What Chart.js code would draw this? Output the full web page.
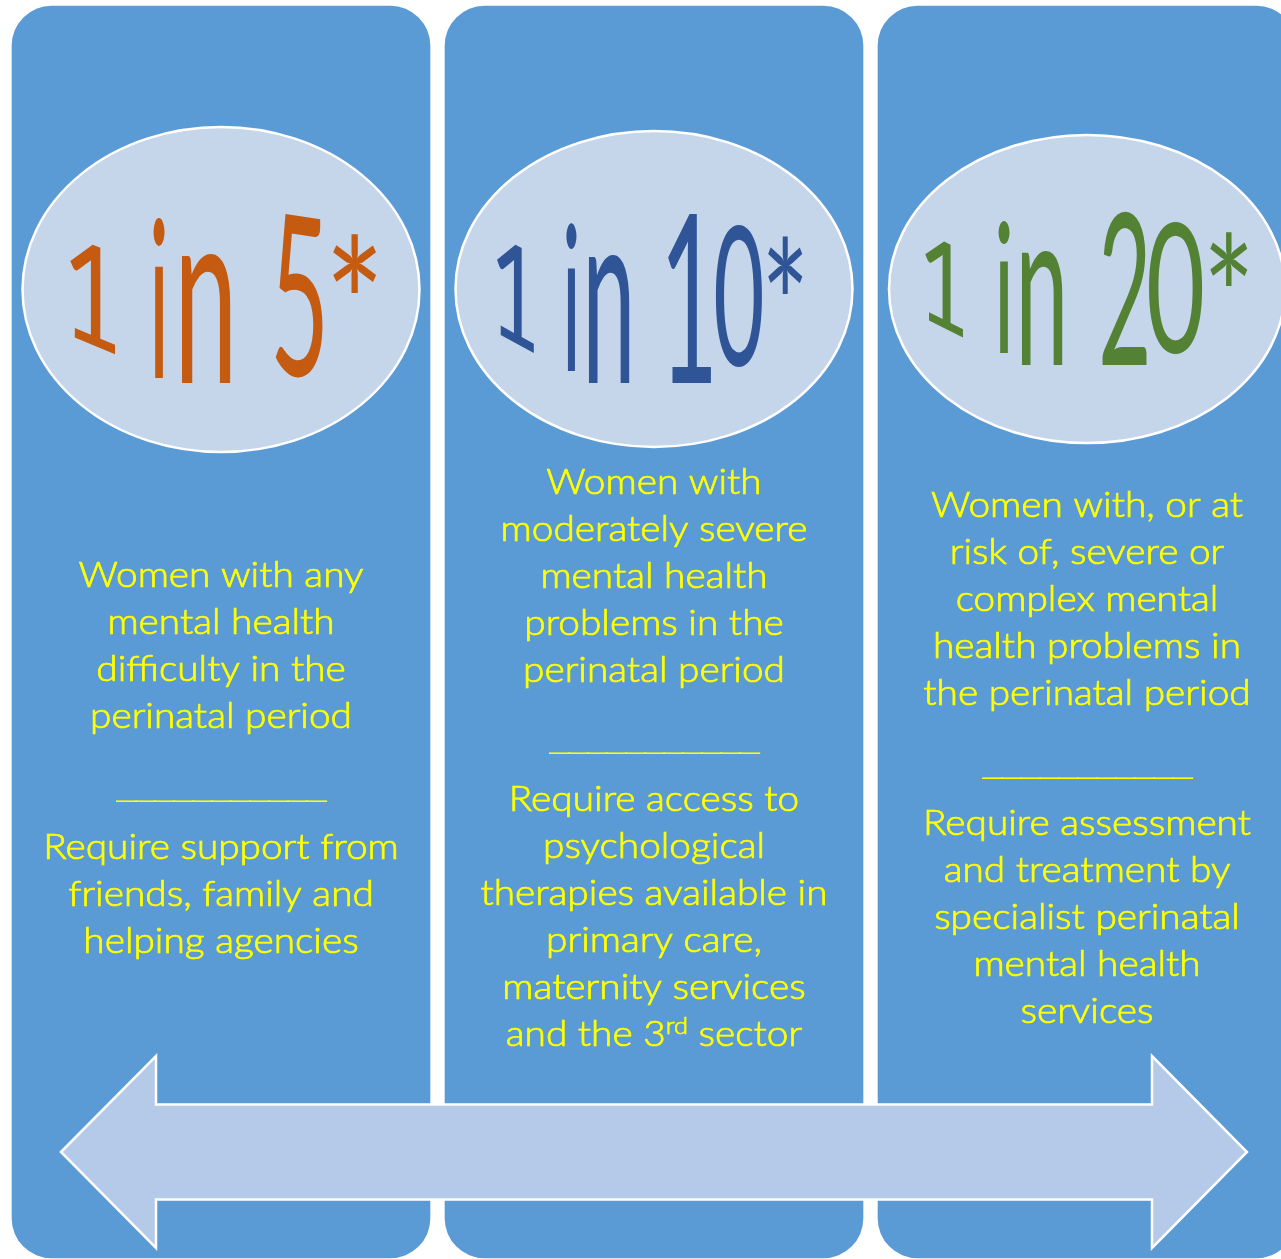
<!DOCTYPE html>
<html>
<head>
<meta charset="utf-8">
<script src="https://cdn.jsdelivr.net/npm/chart.js@4.4.1/dist/chart.umd.min.js"></script>
<style>
  html, body { margin: 0; padding: 0; background: #ffffff; }
  #wrap { width: 1281px; height: 1259px; overflow: hidden; }
</style>
</head>
<body>
<div id="wrap"><canvas id="chart" width="1281" height="1259"></canvas></div>
<script>
// ---- data ----
const panelTitles = ["1 in 5*", "1 in 10*", "1 in 20*"];
const whoText = [
  ["Women with any", "mental health", "difficulty in the", "perinatal period"],
  ["Women with", "moderately severe", "mental health", "problems in the", "perinatal period"],
  ["Women with, or at", "risk of, severe or", "complex mental", "health problems in", "the perinatal period"]
];
// {..} marks superscript
const needText = [
  ["Require support from", "friends, family and", "helping agencies"],
  ["Require access to", "psychological", "therapies available in", "primary care,", "maternity services", "and the 3{rd} sector"],
  ["Require assessment", "and treatment by", "specialist perinatal", "mental health", "services"]
];
const divider = "___________";

// ---- layout / style ----
const colors = {
  panel: "#5b9bd5",
  oval: "#c5d5ea",
  arrow: "#b5c9e8",
  text: "#ffff00",
  titles: ["#c55a11", "#2f5597", "#548235"]
};

const layout = {
  panelTop: 6,
  panelBottom: 1258,
  panelWidth: 418,
  ovals: [
    { cy: 289.5, rx: 198.5, ry: 162.5 },
    { cy: 289, rx: 198.5, ry: 158 },
    { cy: 289, rx: 198, ry: 154 }
  ],
  // one box per glyph of the title: x0, x1, y0, y1, vertical shear
  glyphs: [
    [[70, 115, 243, 345, 0.42], [153, 165, 215, 378, 0], [182, 231, 253, 383, 0], [275, 323, 213, 378, 0.15], [333, 377, 232, 292, 0]],
    [[497, 534, 243, 343, 0.55], [566, 577, 222, 371, 0], [589, 630, 254, 383, 0], [668, 711, 212, 383, 0], [716, 762, 222, 368, 0], [768, 803, 233, 292, 0]],
    [[925, 963, 240, 328, 0.5], [998, 1010, 220, 353, 0], [1022, 1063, 250, 365, 0], [1102, 1147, 210, 365, 0], [1149, 1202, 220, 355, 0], [1210, 1248, 230, 285, 0]]
  ],
  whoBase: [587, 494, 517],
  dividerY: [800, 752, 777],
  needBase: [859, 811, 835],
  lineGap: 47,
  dividerWidth: 213,
  refWidth: 285,               // width of "Women with any"
  arrow: { left: 61, right: 1247, headL: 156, headR: 1152, cy: 1152, shaftHalf: 47.5, headHalf: 96 }
};

const bodyFont = "300 35px Lato, 'Open Sans', sans-serif";
const supFont = "300 23px Lato, 'Open Sans', sans-serif";
const glyphFont = "100px Lato, 'Open Sans', sans-serif";

function drawGlyph(ctx, ch, box, color) {
  const [x0, x1, y0, y1, shear] = box;
  ctx.save();
  ctx.font = glyphFont;
  ctx.textAlign = "left";
  ctx.textBaseline = "alphabetic";
  const m = ctx.measureText(ch);
  const gw = m.actualBoundingBoxLeft + m.actualBoundingBoxRight;
  const gh = m.actualBoundingBoxAscent + m.actualBoundingBoxDescent;
  const cx = (x0 + x1) / 2, cy = (y0 + y1) / 2;
  ctx.translate(cx, cy);
  ctx.transform(1, shear, 0, 1, 0, 0);
  ctx.translate(-cx, -cy);
  ctx.translate(x0, y0);
  ctx.scale((x1 - x0) / gw, (y1 - y0) / gh);
  ctx.fillStyle = color;
  ctx.fillText(ch, m.actualBoundingBoxLeft, m.actualBoundingBoxAscent);
  ctx.restore();
}

function drawLine(ctx, str, cx, base, sx) {
  const parts = str.split(/[{}]/);
  let total = 0;
  parts.forEach((p, i) => {
    ctx.font = i % 2 ? supFont : bodyFont;
    total += ctx.measureText(p).width;
  });
  ctx.save();
  ctx.translate(cx - total * sx / 2, base);
  ctx.scale(sx, 1);
  ctx.strokeStyle = colors.text;
  ctx.lineWidth = 0.7;
  let x = 0;
  parts.forEach((p, i) => {
    ctx.font = i % 2 ? supFont : bodyFont;
    const dy = i % 2 ? -12 : 0;
    ctx.fillText(p, x, dy);
    ctx.strokeText(p, x, dy);
    x += ctx.measureText(p).width;
  });
  ctx.restore();
}

const infographic = {
  id: "infographic",
  afterDatasetsDraw(chart) {
    const { ctx, scales } = chart;
    const x = scales.x, px = scales.px, y = scales.y;
    ctx.save();

    // double-headed arrow
    const a = layout.arrow;
    const pts = [
      [a.left, a.cy], [a.headL, a.cy - a.headHalf], [a.headL, a.cy - a.shaftHalf],
      [a.headR, a.cy - a.shaftHalf], [a.headR, a.cy - a.headHalf], [a.right, a.cy],
      [a.headR, a.cy + a.headHalf], [a.headR, a.cy + a.shaftHalf], [a.headL, a.cy + a.shaftHalf],
      [a.headL, a.cy + a.headHalf]
    ];
    ctx.beginPath();
    pts.forEach(([vx, vy], i) => {
      const X = px.getPixelForValue(vx), Y = y.getPixelForValue(vy);
      if (i === 0) ctx.moveTo(X, Y); else ctx.lineTo(X, Y);
    });
    ctx.closePath();
    ctx.fillStyle = colors.arrow;
    ctx.fill();
    ctx.lineWidth = 2.5;
    ctx.strokeStyle = "#ffffff";
    ctx.stroke();

    // body text scale to mimic the narrow original face
    ctx.font = bodyFont;
    const sx = layout.refWidth / ctx.measureText(whoText[0][0]).width;

    panelTitles.forEach((title, i) => {
      const cx = x.getPixelForValue(i);
      const o = layout.ovals[i];

      ctx.beginPath();
      ctx.ellipse(cx, y.getPixelForValue(o.cy), o.rx, o.ry, 0, 0, Math.PI * 2);
      ctx.fillStyle = colors.oval;
      ctx.fill();
      ctx.lineWidth = 2.5;
      ctx.strokeStyle = "#ffffff";
      ctx.stroke();

      const chars = title.replace(/ /g, "").split("");
      chars.forEach((ch, k) => drawGlyph(ctx, ch, layout.glyphs[i][k], colors.titles[i]));

      ctx.fillStyle = colors.text;
      ctx.textAlign = "left";
      ctx.textBaseline = "alphabetic";
      whoText[i].forEach((line, k) => {
        drawLine(ctx, line, cx, y.getPixelForValue(layout.whoBase[i] + k * layout.lineGap), sx);
      });
      needText[i].forEach((line, k) => {
        drawLine(ctx, line, cx, y.getPixelForValue(layout.needBase[i] + k * layout.lineGap), sx);
      });

      // divider made of underscores, each one stretched so they overlap and join up
      ctx.font = bodyFont;
      const m = ctx.measureText("_");
      const uw = m.actualBoundingBoxLeft + m.actualBoundingBoxRight;
      const step = (layout.dividerWidth - 4) / divider.length;
      const base = y.getPixelForValue(layout.dividerY[i]) - (m.actualBoundingBoxDescent - m.actualBoundingBoxAscent) / 2;
      const x0 = cx - layout.dividerWidth / 2;
      divider.split("").forEach((u, k) => {
        ctx.save();
        ctx.translate(x0 + k * step, base);
        ctx.scale((step + 4) / uw, 1.3);
        ctx.fillText(u, m.actualBoundingBoxLeft, 0);
        ctx.restore();
      });
    });

    ctx.restore();
  }
};

const unit = 433;           // pixel distance between panel centres
const firstCentre = 221;
new Chart(document.getElementById("chart"), {
  type: "bar",
  data: {
    datasets: [{
      data: panelTitles.map((t, i) => ({ x: i, y: [layout.panelTop, layout.panelBottom] })),
      backgroundColor: colors.panel,
      borderRadius: 40,
      borderSkipped: false,
      barThickness: layout.panelWidth
    }]
  },
  options: {
    responsive: false,
    animation: false,
    devicePixelRatio: 1,
    layout: { padding: 0 },
    plugins: { legend: { display: false }, tooltip: { enabled: false } },
    scales: {
      x: { type: "linear", offset: false, min: -firstCentre / unit, max: (1281 - firstCentre) / unit, display: false },
      px: { type: "linear", axis: "x", position: "bottom", offset: false, min: 0, max: 1281, display: false },
      y: { type: "linear", min: 0, max: 1259, reverse: true, display: false }
    }
  },
  plugins: [infographic]
});
</script>
</body>
</html>
